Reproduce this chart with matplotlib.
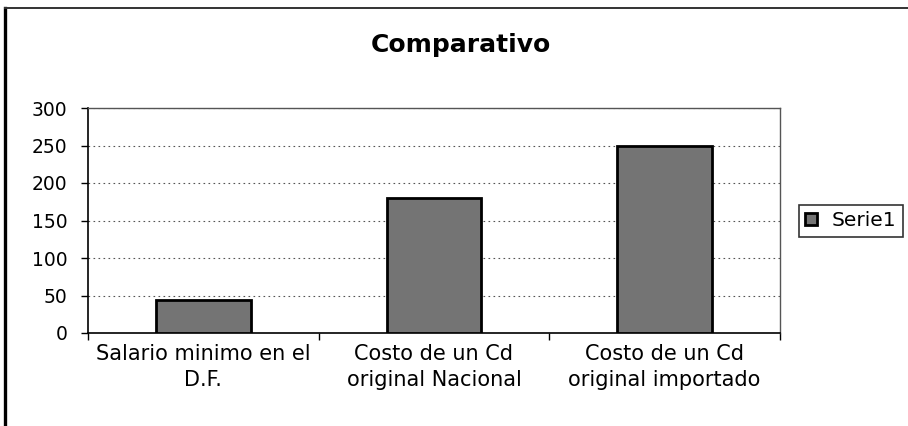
import matplotlib
matplotlib.use("Agg")
import matplotlib.pyplot as plt
from matplotlib.lines import Line2D
import numpy as np

categories = ["Salario minimo en el\nD.F.", "Costo de un Cd\noriginal Nacional", "Costo de un Cd\noriginal importado"]
values = [43.65, 180, 250]
series_name = "Serie1"
yticks = [0, 50, 100, 150, 200, 250, 300]

plt.rcParams['font.family'] = ['DejaVu Sans']

W, H = 908, 426
fig = plt.figure(figsize=(W / 100, H / 100), dpi=100)
fig.patch.set_facecolor('white')

# outer frame (left and top edges visible)
fig.add_artist(Line2D([4.5 / W, 4.5 / W], [0, 1 - 8 / H], transform=fig.transFigure,
                      color='black', linewidth=2.4))
fig.add_artist(Line2D([4.5 / W, 1], [1 - 8 / H, 1 - 8 / H], transform=fig.transFigure,
                      color='#333333', linewidth=1.4))

ax = fig.add_axes([88 / W, 1 - 333 / H, (780 - 88) / W, (333 - 108) / H])
x = np.arange(len(categories))
ax.bar(x, values, width=0.41, color='#747474', edgecolor='black', linewidth=2,
       label=series_name, zorder=3)

ax.set_xlim(-0.5, len(categories) - 0.5)
ax.set_ylim(0, 300)
ax.set_yticks(yticks)
ax.set_yticklabels([str(v) for v in yticks], fontsize=13.5)
ax.set_xticks(x)
ax.set_xticklabels(categories, fontsize=15, linespacing=1.35)
ax.tick_params(axis='x', length=0, pad=8)
ax.set_xticks(np.arange(-0.5, len(categories), 1.0), minor=True)
ax.tick_params(axis='x', which='minor', length=5, width=1, direction='out')
ax.tick_params(axis='y', length=5, width=1, direction='out', pad=10)

ax.grid(axis='y', color='#555555', linestyle=(0, (1.5, 3)), linewidth=0.8, zorder=0)
for s in ['top', 'right']:
    ax.spines[s].set_color('#555555')
    ax.spines[s].set_linestyle((0, (1, 1)))
    ax.spines[s].set_linewidth(1)
for s in ['left', 'bottom']:
    ax.spines[s].set_color('black')
    ax.spines[s].set_linewidth(1.2)

fig.text(461 / W, 1 - 45 / H, "Comparativo", ha='center', va='center',
         fontsize=18, fontweight='bold')

leg = fig.legend(loc='center left', bbox_to_anchor=(799 / W, 1 - 221 / H), fontsize=14.5,
                 frameon=True, fancybox=False, edgecolor='black', handlelength=0.55,
                 handleheight=0.55, handletextpad=0.75, borderpad=0.32, borderaxespad=0)
leg.get_frame().set_linewidth(1.2)

fig.savefig("out.png", dpi=100)
